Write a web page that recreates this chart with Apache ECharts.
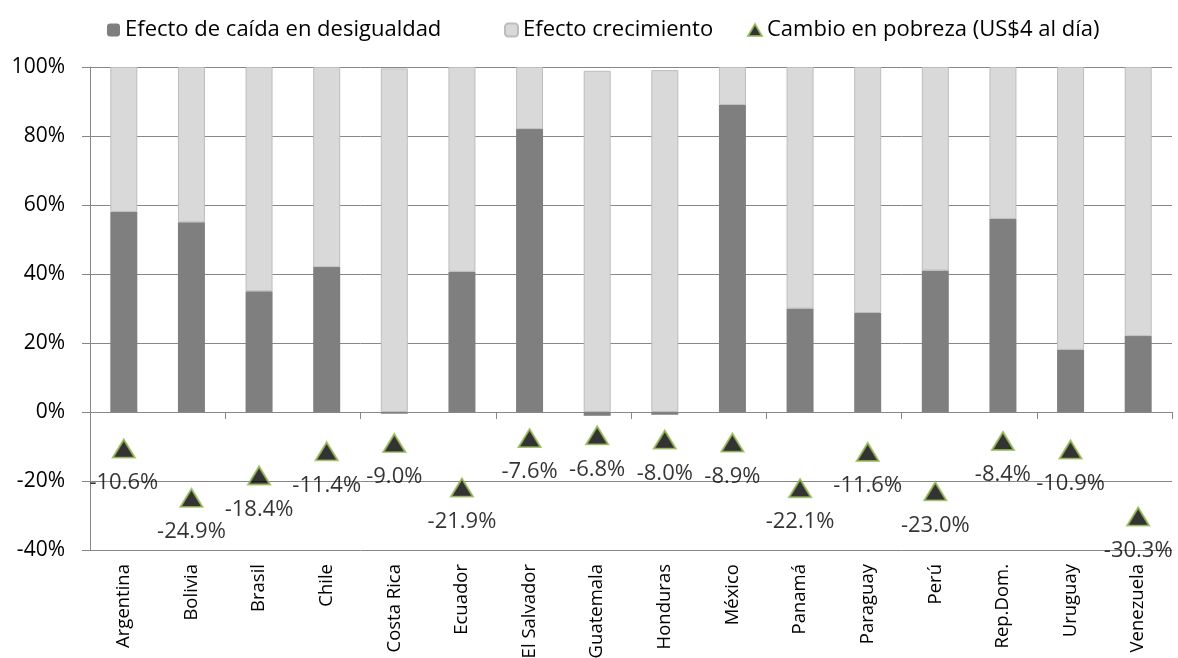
<!DOCTYPE html>
<html>
<head>
<meta charset="utf-8">
<script src="https://cdn.jsdelivr.net/npm/echarts@6/dist/echarts.min.js"></script>
<style>
html,body{margin:0;padding:0;background:#fff;}
#chart{width:1178px;height:658px;}
</style>
</head>
<body>
<div id="chart"></div>
<script>
const categories = ['Argentina','Bolivia','Brasil','Chile','Costa Rica','Ecuador','El Salvador','Guatemala','Honduras','México','Panamá','Paraguay','Perú','Rep.Dom.','Uruguay','Venezuela'];
const inequalityEffect = [58, 55, 35, 42, -0.5, 40.6, 82, -1.1, -0.8, 89, 30, 28.7, 41, 56, 18, 22];
const growthEffect = [42, 45, 65, 58, 99.6, 59.4, 18, 98.9, 99.1, 11, 70, 71.3, 59, 44, 82, 78];
const povertyChange = [-10.6, -24.9, -18.4, -11.4, -9.0, -21.9, -7.6, -6.8, -8.0, -8.9, -22.1, -11.6, -23.0, -8.4, -10.9, -30.3];
const seriesNames = ['Efecto de caída en desigualdad', 'Efecto crecimiento', 'Cambio en pobreza (US$4 al día)'];

const FONT = '"Open Sans", sans-serif';
const GRID_GRAY = '#878787';

const chart = echarts.init(document.getElementById('chart'), null, {renderer: 'canvas'});
const legendBase = {
  top: 14, itemWidth: 13, itemHeight: 13,
  textStyle: {fontFamily: FONT, fontSize: 22, color: '#000'}
};
chart.setOption({
  animation: false,
  backgroundColor: '#fff',
  legend: [
    Object.assign({}, legendBase, {left: 102, data: [seriesNames[0]]}),
    Object.assign({}, legendBase, {left: 499, data: [seriesNames[1]]}),
    Object.assign({}, legendBase, {left: 742, data: [seriesNames[2]], itemWidth: 14, itemHeight: 12})
  ],
  grid: {left: 90, right: 6, top: 67, bottom: 108, containLabel: false, outerBoundsMode: 'none'},
  xAxis: [
    {
      type: 'category', data: categories, position: 'bottom',
      axisLine: {show: false, onZero: false},
      axisTick: {show: false},
      axisLabel: {rotate: 90, margin: 14, fontFamily: FONT, fontSize: 18.5, color: '#000', interval: 0}
    },
    {
      type: 'category', data: categories, position: 'bottom',
      axisLine: {show: true, onZero: true, lineStyle: {color: GRID_GRAY, width: 1}},
      axisTick: {show: true, length: 7, inside: false, lineStyle: {color: GRID_GRAY}},
      axisLabel: {show: false}
    }
  ],
  yAxis: {
    type: 'value', min: -40, max: 100, interval: 20,
    axisLine: {show: true, lineStyle: {color: GRID_GRAY}},
    axisTick: {show: true, length: 8, lineStyle: {color: GRID_GRAY}},
    axisLabel: {formatter: '{value}%', margin: 25, fontFamily: FONT, fontSize: 21, color: '#000'},
    splitLine: {show: true, lineStyle: {color: GRID_GRAY, width: 1}}
  },
  series: [
    {
      name: seriesNames[0], type: 'bar', stack: 'total', xAxisIndex: 0, barWidth: 27,
      itemStyle: {color: '#7f7f7f'},
      data: inequalityEffect
    },
    {
      name: seriesNames[1], type: 'bar', stack: 'total', xAxisIndex: 0, barWidth: 27,
      itemStyle: {color: '#d9d9d9', borderColor: '#bdbdbd', borderWidth: 1},
      data: growthEffect
    },
    {
      name: seriesNames[2], type: 'scatter', xAxisIndex: 0,
      symbol: 'triangle', symbolSize: [22, 18],
      itemStyle: {color: '#000', borderColor: '#9bbb59', borderWidth: 2},
      label: {
        show: true, position: 'bottom', distance: 13,
        formatter: p => p.value.toFixed(1) + '%',
        fontFamily: FONT, fontSize: 22, color: '#000'
      },
      z: 5,
      data: povertyChange
    }
  ]
});
</script>
</body>
</html>
